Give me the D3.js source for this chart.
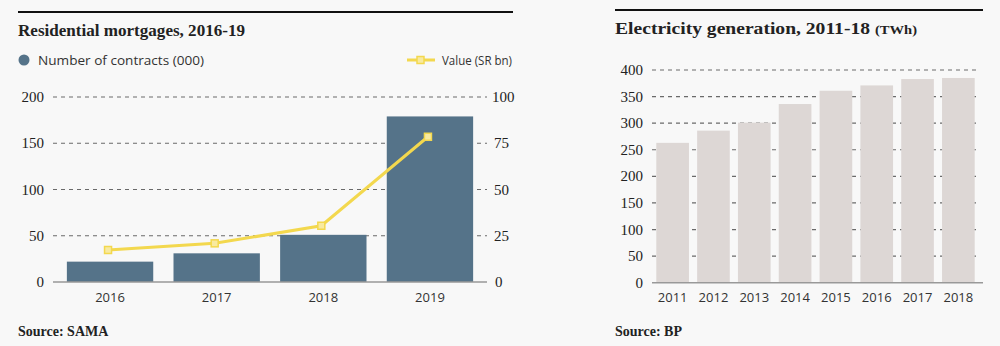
<!DOCTYPE html>
<html><head><meta charset="utf-8">
<script src="https://cdn.jsdelivr.net/npm/d3@7"></script>
<style>
html,body{margin:0;padding:0;background:#f8f8f8;}
svg{display:block;}
.serif{font-family:"Liberation Serif","DejaVu Serif",serif;}
.sans{font-family:"Open Sans","Noto Sans",sans-serif;}
</style></head>
<body>
<svg id="c" width="1000" height="346"></svg>
<script>
// Residential mortgages
const mortYears = ["2016","2017","2018","2019"];
const contracts = [22, 31, 51, 179];        // thousands
const valueSR = [17.3, 20.9, 30.4, 78.5];   // SR bn
const leftTicks = [0, 50, 100, 150, 200];
const rightTicks = [0, 25, 50, 75, 100];
// Electricity generation
const elecYears = ["2011","2012","2013","2014","2015","2016","2017","2018"];
const elecTWh = [263, 286, 301, 336, 361, 371, 383, 385];
const elecTicks = [0, 50, 100, 150, 200, 250, 300, 350, 400];

const svg = d3.select("#c");
svg.append("rect").attr("width",1000).attr("height",346).attr("fill","#f8f8f8");

// ---------- Left chart ----------
const L = svg.append("g");
L.append("line").attr("x1",18).attr("x2",513).attr("y1",12).attr("y2",12).attr("stroke","#111").attr("stroke-width",2);
L.append("text").attr("class","serif").attr("x",18).attr("y",36).attr("font-size",17).attr("font-weight","bold").attr("fill","#222")
  .attr("textLength",227).attr("lengthAdjust","spacingAndGlyphs").text("Residential mortgages, 2016-19");
// legend
L.append("circle").attr("cx",24).attr("cy",60).attr("r",5.5).attr("fill","#557389");
L.append("text").attr("class","sans").attr("x",38).attr("y",64.5).attr("font-size",13).attr("fill","#333")
  .attr("textLength",166).attr("lengthAdjust","spacingAndGlyphs").text("Number of contracts (000)");
L.append("line").attr("x1",407).attr("x2",435).attr("y1",60).attr("y2",60).attr("stroke","#f3d84e").attr("stroke-width",3);
L.append("rect").attr("x",417).attr("y",56.5).attr("width",7).attr("height",7).attr("fill","#f8eaa0").attr("stroke","#f3d84e").attr("stroke-width",1.5);
L.append("text").attr("class","sans").attr("x",442).attr("y",64.5).attr("font-size",13).attr("fill","#333")
  .attr("textLength",70).attr("lengthAdjust","spacingAndGlyphs").text("Value (SR bn)");

const xL = d3.scaleBand().domain(mortYears).range([53,487]).paddingInner(0.19).paddingOuter(0.13);
const yL = d3.scaleLinear().domain([0,200]).range([282,97]);
const yR = d3.scaleLinear().domain([0,100]).range([282,97]);

// gridlines
L.append("g").selectAll("line").data(leftTicks.filter(d=>d>0)).join("line")
  .attr("x1",53).attr("x2",487).attr("y1",d=>yL(d)).attr("y2",d=>yL(d))
  .attr("stroke","#6a6a6a").attr("stroke-width",1.2).attr("stroke-dasharray","4,4");
// left axis labels
L.append("g").selectAll("text").data(leftTicks).join("text").attr("class","serif")
  .attr("x",44).attr("y",d=>yL(d)+5).attr("text-anchor","end").attr("font-size",15).attr("fill","#222").text(d=>d);
// right axis labels
L.append("g").selectAll("text").data(rightTicks).join("text").attr("class","serif")
  .attr("x",d=>d===100?492:(d===0?495:494)).attr("y",d=>yR(d)+5).attr("text-anchor","start").attr("font-size",15).attr("fill","#222").text(d=>d);
// bars
L.append("g").selectAll("rect").data(mortYears).join("rect")
  .attr("x",d=>xL(d)).attr("width",xL.bandwidth())
  .attr("y",(d,i)=>yL(contracts[i])).attr("height",(d,i)=>yL(0)-yL(contracts[i]))
  .attr("fill","#557389");
// baseline
L.append("line").attr("x1",53).attr("x2",487).attr("y1",282).attr("y2",282).attr("stroke","#999").attr("stroke-width",1.5);
// x labels
L.append("g").selectAll("text").data(mortYears).join("text").attr("class","sans")
  .attr("x",d=>xL(d)+xL.bandwidth()/2).attr("y",302).attr("text-anchor","middle").attr("font-size",13).attr("fill","#333").text(d=>d);
// line
const lineGen = d3.line().x((d,i)=>xL(mortYears[i])+xL.bandwidth()/2 - 2).y(d=>yR(d));
L.append("path").datum(valueSR).attr("d",lineGen).attr("fill","none").attr("stroke","#f3d84e").attr("stroke-width",3);
L.append("g").selectAll("rect").data(valueSR).join("rect")
  .attr("x",(d,i)=>xL(mortYears[i])+xL.bandwidth()/2 - 2 - 3.5).attr("y",d=>yR(d)-3.5).attr("width",7).attr("height",7)
  .attr("fill","#f8eaa0").attr("stroke","#f3d84e").attr("stroke-width",1.5);
L.append("text").attr("class","serif").attr("x",18).attr("y",336).attr("font-size",14).attr("font-weight","bold").attr("fill","#222").text("Source: SAMA");

// ---------- Right chart ----------
const R = svg.append("g");
R.append("line").attr("x1",615).attr("x2",983).attr("y1",10).attr("y2",10).attr("stroke","#111").attr("stroke-width",2);
R.append("text").attr("class","serif").attr("x",615).attr("y",34).attr("fill","#222").attr("font-weight","bold")
  .attr("font-size",17).attr("textLength",255).attr("lengthAdjust","spacingAndGlyphs").text("Electricity generation, 2011-18");
R.append("text").attr("class","serif").attr("x",875).attr("y",34).attr("fill","#222").attr("font-weight","bold")
  .attr("font-size",12.5).attr("textLength",42).attr("lengthAdjust","spacingAndGlyphs").text("(TWh)");

const xE = d3.scaleBand().domain(elecYears).range([651,980]).paddingInner(0.2).paddingOuter(0.13);
const yE = d3.scaleLinear().domain([0,400]).range([282.7,70]);
R.append("g").selectAll("line").data(elecTicks.filter(d=>d>0)).join("line")
  .attr("x1",652).attr("x2",980).attr("y1",d=>yE(d)).attr("y2",d=>yE(d))
  .attr("stroke","#6a6a6a").attr("stroke-width",1.2).attr("stroke-dasharray","4,4");
R.append("g").selectAll("text").data(elecTicks).join("text").attr("class","serif")
  .attr("x",643).attr("y",d=>yE(d)+5).attr("text-anchor","end").attr("font-size",15).attr("fill","#222").text(d=>d);
R.append("g").selectAll("rect").data(elecYears).join("rect")
  .attr("x",d=>xE(d)).attr("width",xE.bandwidth())
  .attr("y",(d,i)=>yE(elecTWh[i])).attr("height",(d,i)=>yE(0)-yE(elecTWh[i]))
  .attr("fill","#ddd7d5");
R.append("line").attr("x1",652).attr("x2",983).attr("y1",282.7).attr("y2",282.7).attr("stroke","#999").attr("stroke-width",1.5);
R.append("g").selectAll("text").data(elecYears).join("text").attr("class","sans")
  .attr("x",d=>xE(d)+xE.bandwidth()/2).attr("y",302).attr("text-anchor","middle").attr("font-size",13).attr("fill","#333").text(d=>d);
R.append("text").attr("class","serif").attr("x",615).attr("y",336).attr("font-size",14).attr("font-weight","bold").attr("fill","#222").text("Source: BP");
</script>
</body></html>
